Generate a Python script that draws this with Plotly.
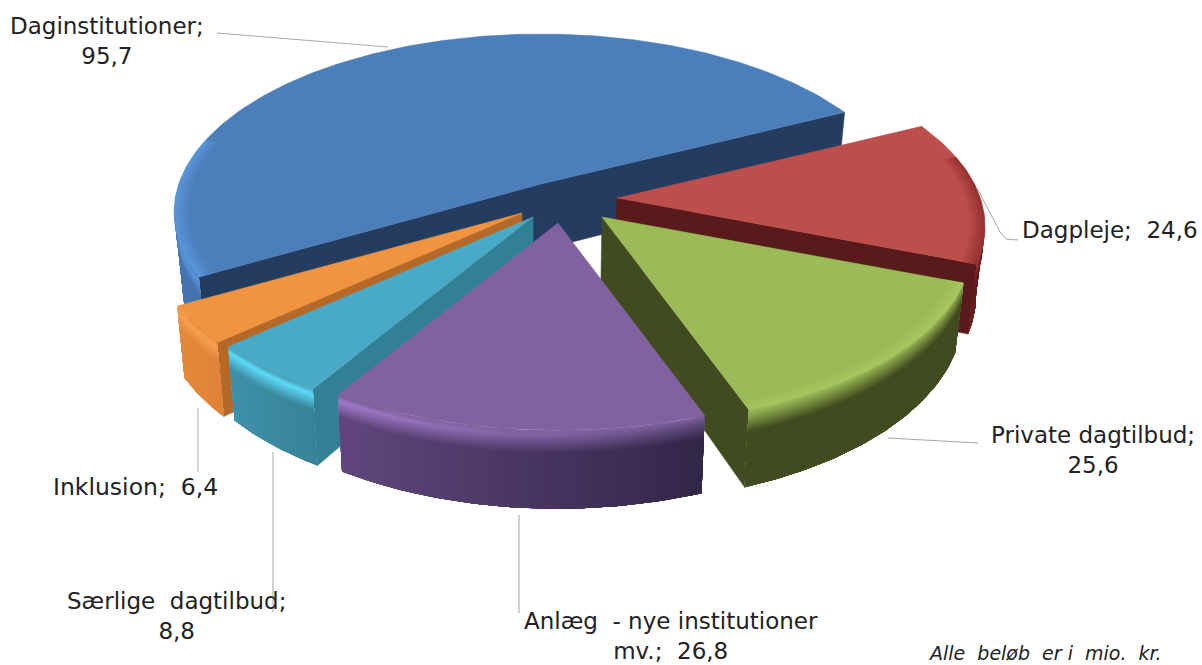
import math
import plotly.graph_objects as go

categories = ["Daginstitutioner", "Dagpleje", "Private dagtilbud",
              "Anlæg - nye institutioner mv.", "Særlige dagtilbud", "Inklusion"]
values = [95.7, 24.6, 25.6, 26.8, 8.8, 6.4]

# geometry of the 3D pie (screen-pixel axes)
FIRST_ANGLE = 240.5
AX, BY, PERSP, THICK = 365.0, 174.0, 0.16, 66.0
VANISH_X, CONVERGE = 545.0, 0.02
APEX = {0: (541, 184), 1: (617, 198), 2: (602, 217), 3: (558, 223), 4: (533, 217), 5: (522, 213)}
AX_SCALE = {0: 0.992, 1: 0.995}
DRAW_ORDER = [0, 1, 2, 5, 4, 3]
VIS_LO, VIS_HI = 99.2, 260.8

STYLE = {
    0: dict(top=(76, 126, 186), cut=(35, 60, 95), wl=(68, 115, 175), wr=(68, 115, 175),
            hl=(88, 148, 218), hr=(88, 148, 218)),
    1: dict(top=(150, 50, 50), cut=(88, 26, 26), wl=(110, 30, 30), wr=(90, 25, 25),
            hl=(135, 45, 45), hr=(135, 45, 45)),
    2: dict(top=(155, 186, 88), cut=(65, 75, 32), wl=(65, 75, 32), wr=(65, 75, 32),
            hl=(140, 170, 78), hr=(125, 150, 65)),
    3: dict(top=(128, 98, 160), cut=(60, 45, 85), wl=(96, 70, 125), wr=(50, 38, 72),
            hl=(160, 122, 200), hr=(100, 78, 130)),
    4: dict(top=(72, 170, 198), cut=(50, 128, 148), wl=(62, 145, 170), wr=(55, 130, 150),
            hl=(92, 218, 248), hr=(92, 218, 248)),
    5: dict(top=(240, 148, 65), cut=(180, 105, 40), wl=(228, 136, 60), wr=(222, 130, 55),
            hl=(245, 158, 80), hr=(245, 158, 80)),
}
TOP_BASE = {0: (76, 126, 186), 1: (188, 78, 75), 2: (155, 186, 88),
            3: (128, 98, 160), 4: (72, 170, 198), 5: (240, 148, 65)}
# soft edge rings on the top face: arc start, arc end, colour at the rim
RINGS = {0: (240.5, 285.0, (88, 148, 218)), 1: (76.0, 111.1, (150, 50, 50)),
         2: (111.0, 160.0, (165, 198, 95))}

LABELS = [
    ("Daginstitutioner;<br>95,7", 107, 41, 23, "normal"),
    ("Dagpleje;\u00a0\u00a024,6", 1110, 230, 23, "normal"),
    ("Private\u00a0dagtilbud;<br>25,6", 1093, 450, 23, "normal"),
    ("Anlæg\u00a0\u00a0-\u00a0nye\u00a0institutioner<br>mv.;\u00a0\u00a026,8", 671, 636, 23, "normal"),
    ("Særlige\u00a0\u00a0dagtilbud;<br>8,8", 176, 616, 23, "normal"),
    ("Inklusion;\u00a0\u00a06,4", 135, 487, 23.5, "normal"),
    ("Alle\u00a0\u00a0beløb\u00a0\u00a0er\u00a0i\u00a0\u00a0mio.\u00a0\u00a0kr.", 1045, 653, 19, "italic"),
]
LEADERS = [
    ([217, 388], [33, 47]),
    ([977, 1000, 1006, 1018], [188, 232, 239, 240]),
    ([888, 978], [438, 443]),
    ([519, 519], [515, 613]),
    ([273, 273], [452, 612]),
    ([198, 198], [408, 472]),
]


def proj(i, theta_deg, radius, t):
    apex = APEX[i]
    th = math.radians(theta_deg)
    X, Y = radius * math.sin(th), radius * math.cos(th)
    d = 1 + PERSP * Y
    sx = apex[0] + AX * AX_SCALE.get(i, 1.0) * X / d
    sx = VANISH_X + (sx - VANISH_X) * (1 - CONVERGE * t)
    return (sx, apex[1] - BY * Y / d + THICK * t / d)


def rgb(c):
    return "rgb(%d,%d,%d)" % tuple(round(v) for v in c)


def mix(a, b, f):
    return tuple(a[i] + (b[i] - a[i]) * f for i in range(3))


def arc(a0, a1):
    n = max(2, int(abs(a1 - a0) / 1.0))
    return [a0 + (a1 - a0) * i / n for i in range(n + 1)]


fig = go.Figure()


def poly(pts, color=None, gradient=None):
    xs = [p[0] for p in pts] + [pts[0][0]]
    ys = [p[1] for p in pts] + [pts[0][1]]
    kw = dict(x=xs, y=ys, mode="lines", fill="toself", hoverinfo="skip", showlegend=False)
    if gradient:
        kw["fillgradient"] = dict(type="horizontal", colorscale=[[0, rgb(gradient[0])], [1, rgb(gradient[1])]])
        kw["line"] = dict(width=0)
    else:
        kw["fillcolor"] = rgb(color)
        kw["line"] = dict(color=rgb(color), width=0.5)
    fig.add_trace(go.Scatter(**kw))


total = sum(values)
spans = [v / total * 360 for v in values]
starts, a = [], FIRST_ANGLE
for sp in spans:
    starts.append(a if a < 360 or not starts else a - 360)
    a = starts[-1] + sp

LAYERS = [k * 0.02 for k in range(0, 16)]


def layer_colour(t, top, hi, wall):
    if t <= 0.06:
        return mix(top, hi, t / 0.06)
    if t <= 0.28:
        return mix(hi, wall, (t - 0.06) / 0.22)
    return wall


for i in DRAW_ORDER:
    s = STYLE[i]
    a0, a1 = starts[i], starts[i] + spans[i]
    # radial cut walls that face the viewer
    for ang, sign in ((a0, -1), (a1, 1)):
        th = math.radians(ang)
        normal_y = sign * -math.sin(th)
        if normal_y < 0:
            poly([proj(i, ang, 0, 0), proj(i, ang, 1, 0), proj(i, ang, 1, 1), proj(i, ang, 0, 1)], color=s["cut"])
    # outer rim wall
    lo, hi = max(a0, VIS_LO), min(a1, VIS_HI)
    if hi > lo:
        for t in LAYERS:
            upper = [proj(i, q, 1, t) for q in arc(lo, hi)]
            lower = [proj(i, q, 1, 1) for q in arc(hi, lo)]
            cl = layer_colour(t, s["top"], s["hl"], s["wl"])
            cr = layer_colour(t, s["top"], s["hr"], s["wr"])
            poly(upper + lower, gradient=(cl, cr))
    # top face, with a soft ring towards the rim where the bevel shows
    base = TOP_BASE[i]
    poly([proj(i, a0, 0, 0)] + [proj(i, q, 1, 0) for q in arc(a0, a1)], color=base)
    if i in RINGS:
        r0, r1, rc = RINGS[i]
        for k in range(6):
            ri = 1 - k * 0.008
            col = mix(rc, base, k / 5)
            ro = [proj(i, q, ri, 0) for q in arc(r0, r1)]
            ins = [proj(i, q, ri - 0.008, 0) for q in arc(r1, r0)]
            poly(ro + ins, color=col)

for lx, ly in LEADERS:
    fig.add_trace(go.Scatter(x=lx, y=ly, mode="lines", line=dict(color="#a6a6a6", width=1),
                             hoverinfo="skip", showlegend=False))

for text, x, y, size, style in LABELS:
    fig.add_annotation(x=x, y=y, text=text, showarrow=False, xanchor="center", yanchor="middle",
                       align="center",
                       font=dict(family="DejaVu Sans", size=size, color="#222222", style=style))

fig.update_layout(
    width=1202, height=665, margin=dict(l=0, r=0, t=0, b=0),
    paper_bgcolor="white", plot_bgcolor="white", showlegend=False,
    xaxis=dict(range=[0, 1202], visible=False, fixedrange=True),
    yaxis=dict(range=[665, 0], visible=False, fixedrange=True),
)
fig.write_html("out.html", config=dict(displayModeBar=False), post_script="document.body.style.margin='0';")
